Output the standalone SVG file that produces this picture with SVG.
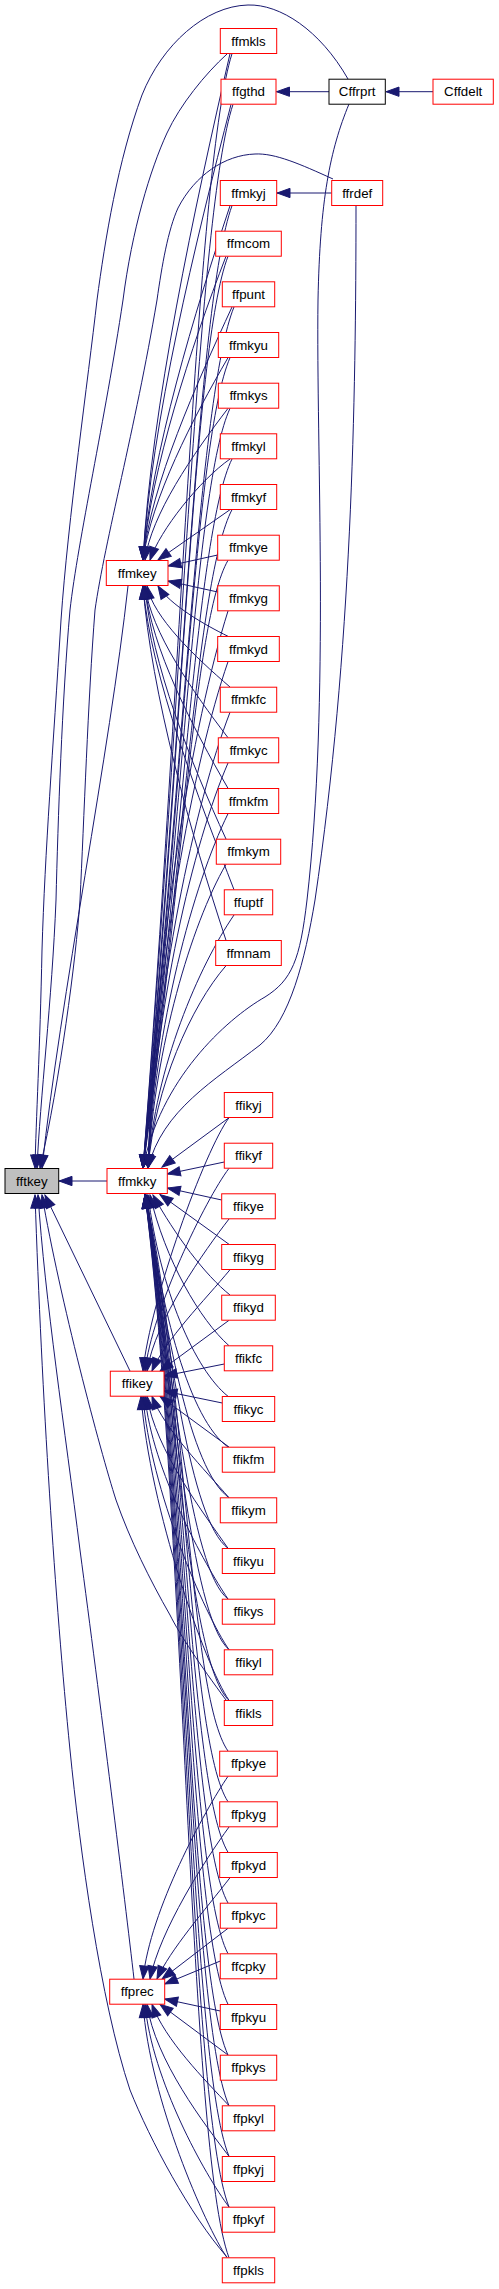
<svg xmlns="http://www.w3.org/2000/svg" width="499" height="2289" viewBox="0 0 499 2289">
<style>
.n rect{fill:#fff;stroke:#ff0000;stroke-width:1}
.b rect{fill:#fff;stroke:#000;stroke-width:1}
.g rect{fill:#bfbfbf;stroke:#000;stroke-width:1}
text{font-family:"Liberation Sans",Arial,sans-serif;font-size:13.3px;text-anchor:middle;fill:#000}
#edges path{fill:none;stroke:#191970;stroke-width:1;marker-end:url(#a)}
</style>
<defs>
<marker id="a" markerUnits="userSpaceOnUse" markerWidth="14" markerHeight="10" refX="13" refY="4.65" orient="auto" overflow="visible">
<path d="M0,0L13,4.65L0,9.3z" fill="#191970" stroke="#191970" stroke-width="1"/>
</marker>
</defs>
<rect width="499" height="2289" fill="#fff"/>
<g id="edges">
<path d="M433,91.7L386,91.7"/>
<path d="M329,91.7L276.5,91.7"/>
<path d="M331.7,193L277,193"/>
<path d="M107,1181L59,1181"/>
<path d="M348,79C320,30 280,4 248,5C205,6 162,45 142,95C118,160 105,240 97,300C88,380 68,520 61,620C53,750 45,850 42,950C40,1050 36,1120 35,1168"/>
<path d="M227,54C205,74 180,105 167,133C150,170 132,230 123,300C105,420 78,540 70,610C62,700 58,820 56,900C52,1000 40,1100 37,1168"/>
<path d="M333,179C300,164 275,153 255,154C225,155 195,175 178,208C168,230 162,265 157,300C135,430 105,540 95,610C88,700 84,820 80,900C76,960 60,1080 40,1168"/>
<path d="M128,586C110,750 60,1000 42,1168"/>
<path d="M130,1371L45,1195"/>
<path d="M226,1700C200,1665 180,1635 170,1615C150,1580 130,1540 116,1500C100,1450 60,1300 42,1195"/>
<path d="M134,1979C125,1900 100,1700 80,1550C65,1430 45,1300 38,1195"/>
<path d="M227,2257C190,2215 150,2140 130,2090C100,2000 80,1850 70,1750C55,1600 42,1400 35,1195"/>
<path d="M349,104C330,150 320,200 318,300C316,450 330,700 307,900C300,960 292,980 265,997C225,1020 160,1080 143,1168"/>
<path d="M356,205C356,400 352,650 315,900C305,960 290,1020 260,1045C215,1080 162,1110 148,1168"/>
<path d="M230,53.7C195,206 151,408 143,560"/>
<path d="M231,104.4C196,241 151,423 143,560"/>
<path d="M230,205.7C195,312 151,454 143,560"/>
<path d="M226,256.3C191,347 151,469 143,560"/>
<path d="M232,307C197,383 151,484 143,560"/>
<path d="M228,357.7C193,418 151,499 143,560"/>
<path d="M228,408.4C193,454 151,515 145,560"/>
<path d="M230,459C200,480 160,530 150,560"/>
<path d="M230,509.7L158,560"/>
<path d="M217.7,555L168,566"/>
<path d="M217.7,592L168,581"/>
<path d="M228,636.3C205,625 170,605 158,586"/>
<path d="M230,687C195,657 153,617 147,586"/>
<path d="M228,737.7C193,692 151,632 145,586"/>
<path d="M228,788.3C193,728 151,648 145,586"/>
<path d="M226,839C191,763 151,663 145,586"/>
<path d="M234,889.7C199,799 151,678 143,586"/>
<path d="M226,940.3C191,834 151,693 143,586"/>
<path d="M232,53.7C197,165 182,667 143,1168"/>
<path d="M233,104.4C198,211 182,689 143,1168"/>
<path d="M232,205.7C197,302 182,735 143,1168"/>
<path d="M228,256.3C193,347 182,758 143,1168"/>
<path d="M234,307C199,393 182,781 143,1168"/>
<path d="M230,357.7C195,439 182,803 143,1168"/>
<path d="M230,408.4C195,484 182,826 143,1168"/>
<path d="M232,459C197,530 182,849 143,1168"/>
<path d="M232,509.7C197,576 182,872 143,1168"/>
<path d="M228,560.3C193,621 182,895 143,1168"/>
<path d="M228,611C193,722 155,945 148,1168"/>
<path d="M228,661.7C193,763 155,966 148,1168"/>
<path d="M230,712.3C195,803 155,986 148,1168"/>
<path d="M228,763C193,844 155,1006 148,1168"/>
<path d="M228,813.7C193,885 155,1026 148,1168"/>
<path d="M226,864.3C191,925 155,1047 148,1168"/>
<path d="M234,915C199,966 155,1067 148,1168"/>
<path d="M226,965.7C191,1006 155,1087 148,1168"/>
<path d="M229,1117.7L162,1167"/>
<path d="M224.3,1162L167.3,1174"/>
<path d="M221.7,1200L167.3,1188"/>
<path d="M229,1244.3L160,1194.5"/>
<path d="M230,1295C205,1275 175,1235 153,1195"/>
<path d="M229,1345.7C200,1320 165,1260 150,1195"/>
<path d="M228,1396.3C195,1370 160,1290 148,1195"/>
<path d="M228,1447C190,1420 160,1310 147,1195"/>
<path d="M229,1497.7C190,1470 165,1330 146,1195"/>
<path d="M228,1548.3C190,1520 170,1350 146,1195"/>
<path d="M228,1599C190,1570 172,1370 145,1195"/>
<path d="M229,1649.7C190,1615 174,1390 145,1195"/>
<path d="M229,1700.3C190,1665 176,1410 145,1195"/>
<path d="M229,1117.7C205,1150 150,1300 143,1371"/>
<path d="M229,1168.3C205,1200 152,1310 145,1371"/>
<path d="M229,1219C205,1250 155,1320 147,1371"/>
<path d="M230,1269.7C205,1300 165,1340 152,1371"/>
<path d="M229,1320.3L160,1371"/>
<path d="M224.3,1364L164,1376"/>
<path d="M222.3,1403L164,1391"/>
<path d="M229,1447L160,1396.3"/>
<path d="M229,1497.7C205,1470 165,1430 152,1396.3"/>
<path d="M228,1548.3C205,1515 155,1450 147,1396.3"/>
<path d="M228,1599C205,1565 152,1470 145,1396.3"/>
<path d="M229,1649.7C205,1615 150,1490 143,1396.3"/>
<path d="M229,1700.3C205,1665 150,1510 141,1396.3"/>
<path d="M228,1776.3C205,1810 150,1910 143,1979"/>
<path d="M229,1827C205,1860 160,1930 150,1979"/>
<path d="M230,1877.7C205,1910 170,1950 157,1979"/>
<path d="M228,1928.3L162,1979"/>
<path d="M220.3,1961L164.7,1984"/>
<path d="M220.3,2011L164.7,1999"/>
<path d="M228,2055L160,2004.3"/>
<path d="M229,2105.7C205,2080 165,2040 152,2004.3"/>
<path d="M229,2156.3C205,2125 155,2060 147,2004.3"/>
<path d="M229,2207C205,2175 152,2080 145,2004.3"/>
<path d="M227,2257.7C205,2225 150,2100 143,2004.3"/>
<path d="M228,1751C188,1695 185,1361 145,1195"/>
<path d="M228,1801.7C188,1741 185,1376 145,1195"/>
<path d="M228,1852.3C188,1786 185,1392 145,1195"/>
<path d="M228,1903C188,1832 185,1407 145,1195"/>
<path d="M228,1953.7C188,1878 185,1422 145,1195"/>
<path d="M228,2004.3C188,1923 185,1437 145,1195"/>
<path d="M228,2055C188,1969 185,1452 145,1195"/>
<path d="M229,2105.7C189,2015 185,1468 145,1195"/>
<path d="M229,2156.3C189,2060 185,1483 145,1195"/>
<path d="M229,2207C189,2106 185,1498 145,1195"/>
<path d="M229,2257.7C189,2151 185,1513 145,1195"/>
</g>
<g id="fftkey" class="g"><rect x="5" y="1168.5" width="53.7" height="25"/><text x="31.85" y="1185.7">fftkey</text></g>
<g id="ffmkky" class="n"><rect x="107" y="1168.5" width="60.3" height="25"/><text x="137.2" y="1185.7">ffmkky</text></g>
<g id="ffmkey" class="n"><rect x="106.3" y="560.5" width="61.7" height="25"/><text x="137.2" y="577.7">ffmkey</text></g>
<g id="ffikey" class="n"><rect x="110.3" y="1371.2" width="53.7" height="25"/><text x="137.2" y="1388.4">ffikey</text></g>
<g id="ffprec" class="n"><rect x="109.7" y="1979.2" width="55" height="25"/><text x="137.2" y="1996.4">ffprec</text></g>
<g id="Cffrprt" class="b"><rect x="329" y="79.2" width="56.3" height="25"/><text x="357.2" y="96.4">Cffrprt</text></g>
<g id="Cffdelt" class="n"><rect x="433" y="79.2" width="60.3" height="25"/><text x="463.2" y="96.4">Cffdelt</text></g>
<g id="ffrdef" class="n"><rect x="331.7" y="180.5" width="51" height="25"/><text x="357.2" y="197.7">ffrdef</text></g>
<g id="ffmkls" class="n"><rect x="220.3" y="28.5" width="56.4" height="25"/><text x="248.5" y="45.7">ffmkls</text></g>
<g id="ffgthd" class="n"><rect x="221" y="79.2" width="55" height="25"/><text x="248.5" y="96.4">ffgthd</text></g>
<g id="ffmkyj" class="n"><rect x="220.3" y="180.5" width="56.4" height="25"/><text x="248.5" y="197.7">ffmkyj</text></g>
<g id="ffmcom" class="n"><rect x="215.7" y="231.2" width="65.6" height="25"/><text x="248.5" y="248.4">ffmcom</text></g>
<g id="ffpunt" class="n"><rect x="222.3" y="281.8" width="52.4" height="25"/><text x="248.5" y="299">ffpunt</text></g>
<g id="ffmkyu" class="n"><rect x="218.3" y="332.5" width="60.4" height="25"/><text x="248.5" y="349.7">ffmkyu</text></g>
<g id="ffmkys" class="n"><rect x="218.3" y="383.2" width="60.4" height="25"/><text x="248.5" y="400.4">ffmkys</text></g>
<g id="ffmkyl" class="n"><rect x="220.3" y="433.8" width="56.4" height="25"/><text x="248.5" y="451">ffmkyl</text></g>
<g id="ffmkyf" class="n"><rect x="220.3" y="484.5" width="56.4" height="25"/><text x="248.5" y="501.7">ffmkyf</text></g>
<g id="ffmkye" class="n"><rect x="217.7" y="535.2" width="61.6" height="25"/><text x="248.5" y="552.4">ffmkye</text></g>
<g id="ffmkyg" class="n"><rect x="217.7" y="585.8" width="61.6" height="25"/><text x="248.5" y="603">ffmkyg</text></g>
<g id="ffmkyd" class="n"><rect x="217.7" y="636.5" width="61.6" height="25"/><text x="248.5" y="653.7">ffmkyd</text></g>
<g id="ffmkfc" class="n"><rect x="220.3" y="687.2" width="56.4" height="25"/><text x="248.5" y="704.4">ffmkfc</text></g>
<g id="ffmkyc" class="n"><rect x="218.3" y="737.8" width="60.4" height="25"/><text x="248.5" y="755">ffmkyc</text></g>
<g id="ffmkfm" class="n"><rect x="218.3" y="788.5" width="60.4" height="25"/><text x="248.5" y="805.7">ffmkfm</text></g>
<g id="ffmkym" class="n"><rect x="216.3" y="839.2" width="64.4" height="25"/><text x="248.5" y="856.4">ffmkym</text></g>
<g id="ffuptf" class="n"><rect x="224.3" y="889.8" width="48.4" height="25"/><text x="248.5" y="907">ffuptf</text></g>
<g id="ffmnam" class="n"><rect x="215.7" y="940.5" width="65.6" height="25"/><text x="248.5" y="957.7">ffmnam</text></g>
<g id="ffikyj" class="n"><rect x="224.3" y="1092.5" width="48.4" height="25"/><text x="248.5" y="1109.7">ffikyj</text></g>
<g id="ffikyf" class="n"><rect x="224.3" y="1143.2" width="48.4" height="25"/><text x="248.5" y="1160.4">ffikyf</text></g>
<g id="ffikye" class="n"><rect x="221.7" y="1193.8" width="53.6" height="25"/><text x="248.5" y="1211">ffikye</text></g>
<g id="ffikyg" class="n"><rect x="221.7" y="1244.5" width="53.6" height="25"/><text x="248.5" y="1261.7">ffikyg</text></g>
<g id="ffikyd" class="n"><rect x="221.7" y="1295.2" width="53.6" height="25"/><text x="248.5" y="1312.4">ffikyd</text></g>
<g id="ffikfc" class="n"><rect x="224.3" y="1345.8" width="48.4" height="25"/><text x="248.5" y="1363">ffikfc</text></g>
<g id="ffikyc" class="n"><rect x="222.3" y="1396.5" width="52.4" height="25"/><text x="248.5" y="1413.7">ffikyc</text></g>
<g id="ffikfm" class="n"><rect x="222.3" y="1447.2" width="52.4" height="25"/><text x="248.5" y="1464.4">ffikfm</text></g>
<g id="ffikym" class="n"><rect x="220.3" y="1497.8" width="56.4" height="25"/><text x="248.5" y="1515">ffikym</text></g>
<g id="ffikyu" class="n"><rect x="222.3" y="1548.5" width="52.4" height="25"/><text x="248.5" y="1565.7">ffikyu</text></g>
<g id="ffikys" class="n"><rect x="222.3" y="1599.2" width="52.4" height="25"/><text x="248.5" y="1616.4">ffikys</text></g>
<g id="ffikyl" class="n"><rect x="224.3" y="1649.8" width="48.4" height="25"/><text x="248.5" y="1667">ffikyl</text></g>
<g id="ffikls" class="n"><rect x="224.3" y="1700.5" width="48.4" height="25"/><text x="248.5" y="1717.7">ffikls</text></g>
<g id="ffpkye" class="n"><rect x="219.7" y="1751.2" width="57.6" height="25"/><text x="248.5" y="1768.4">ffpkye</text></g>
<g id="ffpkyg" class="n"><rect x="219.7" y="1801.8" width="57.6" height="25"/><text x="248.5" y="1819">ffpkyg</text></g>
<g id="ffpkyd" class="n"><rect x="219.7" y="1852.5" width="57.6" height="25"/><text x="248.5" y="1869.7">ffpkyd</text></g>
<g id="ffpkyc" class="n"><rect x="220.3" y="1903.2" width="56.4" height="25"/><text x="248.5" y="1920.4">ffpkyc</text></g>
<g id="ffcpky" class="n"><rect x="220.3" y="1953.8" width="56.4" height="25"/><text x="248.5" y="1971">ffcpky</text></g>
<g id="ffpkyu" class="n"><rect x="220.3" y="2004.5" width="56.4" height="25"/><text x="248.5" y="2021.7">ffpkyu</text></g>
<g id="ffpkys" class="n"><rect x="220.3" y="2055.2" width="56.4" height="25"/><text x="248.5" y="2072.4">ffpkys</text></g>
<g id="ffpkyl" class="n"><rect x="222.3" y="2105.8" width="52.4" height="25"/><text x="248.5" y="2123">ffpkyl</text></g>
<g id="ffpkyj" class="n"><rect x="222.3" y="2156.5" width="52.4" height="25"/><text x="248.5" y="2173.7">ffpkyj</text></g>
<g id="ffpkyf" class="n"><rect x="222.3" y="2207.2" width="52.4" height="25"/><text x="248.5" y="2224.4">ffpkyf</text></g>
<g id="ffpkls" class="n"><rect x="222.3" y="2257.8" width="52.4" height="25"/><text x="248.5" y="2275">ffpkls</text></g>
</svg>
